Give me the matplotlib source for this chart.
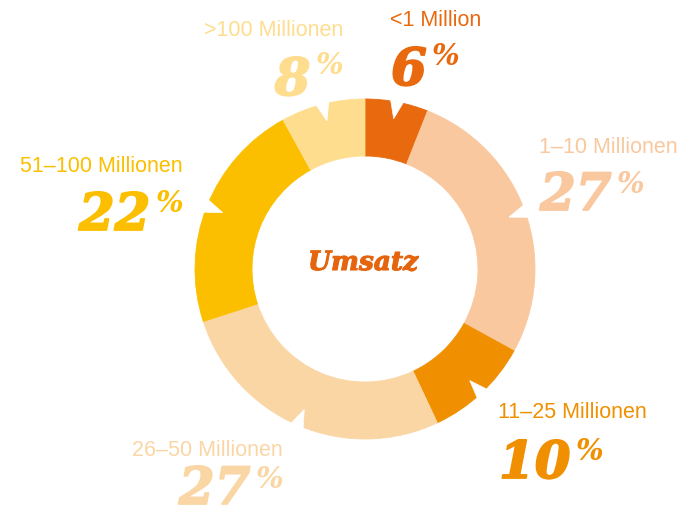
import matplotlib
matplotlib.use('Agg')
import matplotlib.pyplot as plt
from matplotlib.patches import Polygon
import matplotlib.patheffects as pe
import numpy as np

# Anteile nach Umsatzklasse, im Uhrzeigersinn ab 12 Uhr
kategorien = ['<1 Million', '1–10 Millionen', '11–25 Millionen',
              '26–50 Millionen', '51–100 Millionen', '>100 Millionen']
anteile = [6, 27, 10, 27, 22, 8]
titel = 'Umsatz'

farben = ['#E8690E', '#F9C89E', '#F08F00', '#FBD6A5', '#FBBF00', '#FEDD8F']

# Beschriftung: Seite, x, Grundlinie Text, Grundlinie Zahl, Grundlinie %  (Pixel von oben)
beschriftung = [
    ('links', 390, 26, 85, 65),
    ('links', 539, 153, 210, 193),
    ('links', 498, 418, 478, 460),
    ('rechts', 283, 456, 504, 488),
    ('rechts', 183, 172, 230, 212),
    ('rechts', 343, 36, 95, 74),
]

W, H = 691, 517
cx, cy = 365, H - 269
R, ring = 170, 57

fig = plt.figure(figsize=(W / 100, H / 100), dpi=100)
ax = fig.add_axes([0, 0, 1, 1])

wedges, _ = ax.pie(anteile, colors=farben, radius=R, center=(cx, cy),
                   startangle=90, counterclock=False,
                   wedgeprops=dict(width=ring, linewidth=0.6))
for w, c in zip(wedges, farben):
    w.set_edgecolor(c)

ax.set_xlim(0, W)
ax.set_ylim(0, H)
ax.set_aspect('equal')
ax.axis('off')

# kleine Kerben am Außenrand jedes Segments
kum = np.cumsum(anteile)
for v, k in zip(anteile, kum):
    mitte = np.deg2rad(90 - (k - v / 2) * 3.6)
    d = np.deg2rad(2.4)
    pts = [(cx + (R + 3) * np.cos(mitte - d), cy + (R + 3) * np.sin(mitte - d)),
           (cx + (R - 17) * np.cos(mitte), cy + (R - 17) * np.sin(mitte)),
           (cx + (R + 3) * np.cos(mitte + d), cy + (R + 3) * np.sin(mitte + d))]
    ax.add_patch(Polygon(pts, closed=True, facecolor='white', edgecolor='white', linewidth=0.5, zorder=5))

zahl_font = dict(family='DejaVu Serif', weight='bold', style='italic')
for kat, v, c, (seite, x, y_txt, y_zahl, y_pct) in zip(kategorien, anteile, farben, beschriftung):
    ha = 'left' if seite == 'links' else 'right'
    dick = [pe.withStroke(linewidth=1.3, foreground=c)]
    ax.text(x, H - y_txt, kat, ha=ha, va='baseline', color=c, fontsize=15.5, family='Liberation Sans')
    if seite == 'links':
        t = ax.text(x + 1, H - y_zahl, str(v), ha='left', va='baseline', color=c, fontsize=37,
                    path_effects=dick, **zahl_font)
        ax.annotate('%', xy=(1, H - y_pct), xycoords=(t, 'data'), xytext=(5, 0), textcoords='offset pixels',
                    ha='left', va='baseline', color=c, fontsize=21, **zahl_font)
    else:
        p = ax.text(x, H - y_pct, '%', ha='right', va='baseline', color=c, fontsize=21, **zahl_font)
        ax.annotate(str(v), xy=(0, H - y_zahl), xycoords=(p, 'data'), xytext=(-5, 0), textcoords='offset pixels',
                    ha='right', va='baseline', color=c, fontsize=37, path_effects=dick, **zahl_font)

ax.text(cx - 2, H - 270, titel, ha='center', va='baseline', color='#E5650F', fontsize=19,
        path_effects=[pe.withStroke(linewidth=0.8, foreground='#E5650F')], **zahl_font)

fig.savefig('out.png', dpi=100)
